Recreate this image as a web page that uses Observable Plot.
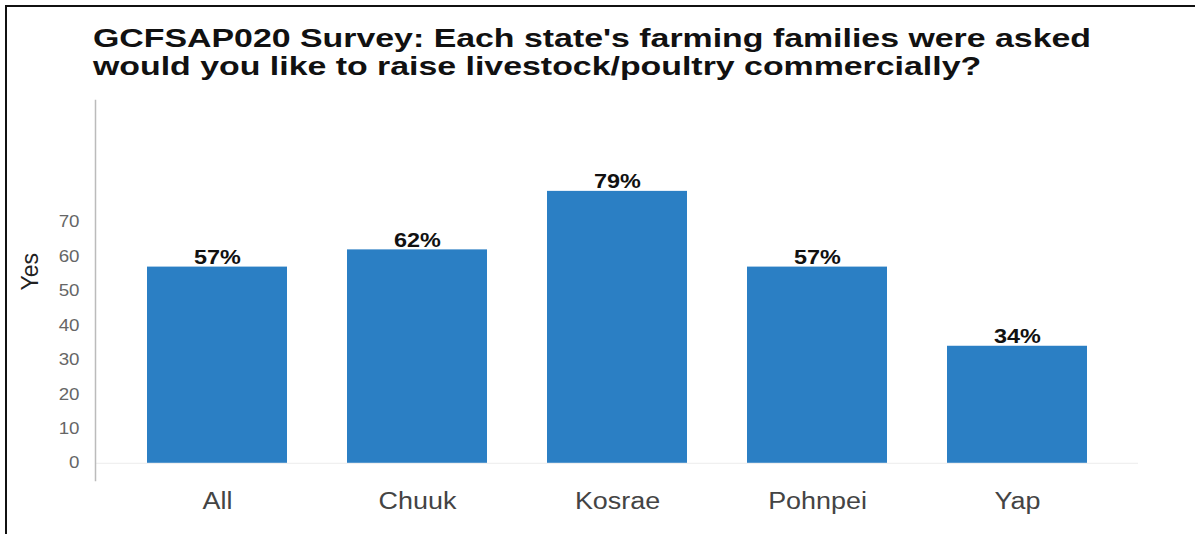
<!DOCTYPE html>
<html>
<head>
<meta charset="utf-8">
<script src="https://cdn.jsdelivr.net/npm/d3@7"></script>
<script src="https://cdn.jsdelivr.net/npm/@observablehq/plot@0.6"></script>
<style>
  html, body { margin: 0; padding: 0; background: #fff; width: 1195px; height: 534px; overflow: hidden; }
  #wrap { position: relative; width: 1195px; height: 534px; }
  #frame { position: absolute; left: 5px; top: 5px; width: 1300px; height: 700px; border: 2px solid #111; }
  #title { position: absolute; left: 93px; top: 24px; font-family: "Liberation Sans", Arial, sans-serif; font-weight: bold; font-size: 26px; line-height: 28px; color: #111; white-space: nowrap; transform-origin: 0 0; }
  #chart { position: absolute; left: 0; top: 95px; }
</style>
</head>
<body>
<div id="wrap">
  <div id="frame"></div>
  <div id="title"><div id="t1">GCFSAP020 Survey: Each state's farming families were asked</div><div id="t2">would you like to raise livestock/poultry commercially?</div></div>
  <div id="chart"></div>
</div>
<script>
const states = ["All", "Chuuk", "Kosrae", "Pohnpei", "Yap"];
const yesPercent = [57, 62, 79, 57, 34];
const yTicks = [0, 10, 20, 30, 40, 50, 60, 70];
const yLabel = "Yes";

const data = states.map((s, i) => ({state: s, value: yesPercent[i]}));

// Title: stretch horizontally to match the reference's proportions
const title = document.getElementById("title");
const t1 = document.getElementById("t1");
const w1 = t1.getBoundingClientRect().width;
const sx = 998 / w1;
title.style.transform = `scaleX(${sx})`;

const plot = Plot.plot({
  width: 1195,
  height: 439,
  marginLeft: 95,
  marginRight: 57,
  marginTop: 5,
  marginBottom: 54,
  style: {fontFamily: "'Liberation Sans', Arial, sans-serif", background: "transparent"},
  x: {domain: states, paddingInner: 0.3, paddingOuter: 0.25, label: null},
  y: {domain: [-5, 105.4], label: null},
  marks: [
    Plot.ruleY([0], {stroke: "#ececec", strokeWidth: 1}),
    Plot.barY(data, {x: "state", y: "value", fill: "#2b7fc4"}),
    Plot.text(data, {x: "state", y: "value", text: d => `${d.value}%`, lineAnchor: "bottom", dy: -3, fontWeight: "bold", fontSize: 20, fill: "#111"}),
    Plot.axisX({tickSize: 0, tickPadding: 12, fontSize: 23, fill: "#444", label: null}),
    Plot.axisY({ticks: yTicks, tickSize: 0, tickPadding: 16, fontSize: 16, fill: "#666", label: null}),
    Plot.frame({anchor: "left", stroke: "#bbb", strokeWidth: 1.5}),
    Plot.text([yLabel], {frameAnchor: "left", text: d => d, rotate: -90, dx: -65, fontSize: 23, fill: "#222"})
  ]
});
document.getElementById("chart").appendChild(plot);

// Stretch SVG texts horizontally (reference is horizontally stretched)
const stretch = 1.17;
plot.querySelectorAll("text").forEach(t => {
  if (t.textContent === yLabel) return;
  const len = t.getComputedTextLength();
  if (len > 0) {
    t.setAttribute("textLength", len * stretch);
    t.setAttribute("lengthAdjust", "spacingAndGlyphs");
  }
});
</script>
</body>
</html>
